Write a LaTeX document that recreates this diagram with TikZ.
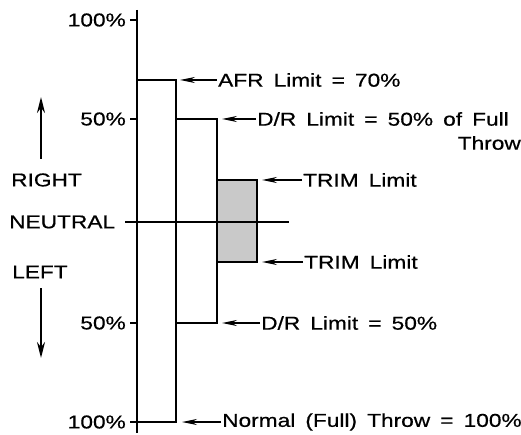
\documentclass[tikz,border=0pt]{standalone}
\usepackage{fontspec}
\setmainfont{Liberation Sans}[FakeStretch=1.22,FakeBold=0.6,WordSpace=1.6]
\usetikzlibrary{arrows.meta}
\begin{document}
\begin{tikzpicture}[x=1pt,y=-1pt,
		lbl/.style={inner sep=1pt,font=\fontsize{18.6}{21}\selectfont},
		ptr/.style={-{Stealth[length=15pt,width=6pt]},line width=1.2pt},
		bigptr/.style={-{Stealth[length=16pt,width=8pt]},line width=2pt},
		limitbox/.style={draw=black,line width=1.3pt},
		axisline/.style={line width=2pt}]
	\useasboundingbox (0,0) rectangle (521,435);
	% boxes
	\draw [limitbox] (137,80) rectangle (176,422);
	\draw [limitbox] (176,119) rectangle (217,323);
	\draw [limitbox,fill=gray!42] (217,180) rectangle (257,262);
	% axis and neutral line
	\draw [axisline] (137,10) -- (137,433);
	\draw [line width=1.6pt] (125,222) -- (289,222);
	\foreach \y/\t in {20/100\%,119/50\%,323/50\%,422/100\%} {
		\draw [line width=1.6pt] (130,\y) -- (137,\y);
		\node [lbl,anchor=east] (tick\y) at (127,\y) {\t};
	}
	% side labels
	\node [lbl,anchor=west] (right) at (10,180) {RIGHT};
	\node [lbl,anchor=west] (neutral) at (8,222) {NEUTRAL};
	\node [lbl,anchor=west] (left) at (11,272) {LEFT};
	\coordinate (uptail) at (41,159);
	\coordinate (uptip) at (41,97);
	\coordinate (downtail) at (41,288);
	\coordinate (downtip) at (41,358);
	\draw [bigptr] (uptail) -- (uptip);
	\draw [bigptr] (downtail) -- (downtip);
	% limit labels
	\node [lbl,anchor=west] (afr) at (217,80) {AFR Limit = 70\%};
	\node [lbl,anchor=west] (drup) at (256,119) {D/R Limit = 50\% of Full};
	\node [lbl,anchor=east] (throw) at (522,143) {Throw};
	\node [lbl,anchor=west] (trimup) at (302,180) {TRIM Limit};
	\node [lbl,anchor=west] (trimdown) at (303,262) {TRIM Limit};
	\node [lbl,anchor=west] (drdown) at (260,323) {D/R Limit = 50\%};
	\node [lbl,anchor=west] (normal) at (221,422) {Normal (Full) Throw = 100\%};
	\coordinate (afrtip) at (180,80);
	\coordinate (druptip) at (222,119);
	\coordinate (trimuptip) at (262,180);
	\coordinate (trimdowntip) at (262,262);
	\coordinate (drdowntip) at (222,323);
	\coordinate (normaltip) at (182,422);
	\draw [ptr] (afr.west) -- (afrtip);
	\draw [ptr] (drup.west) -- (druptip);
	\draw [ptr] (trimup.west) -- (trimuptip);
	\draw [ptr] (trimdown.west) -- (trimdowntip);
	\draw [ptr] (drdown.west) -- (drdowntip);
	\draw [ptr] (normal.west) -- (normaltip);
\end{tikzpicture}
\end{document}
